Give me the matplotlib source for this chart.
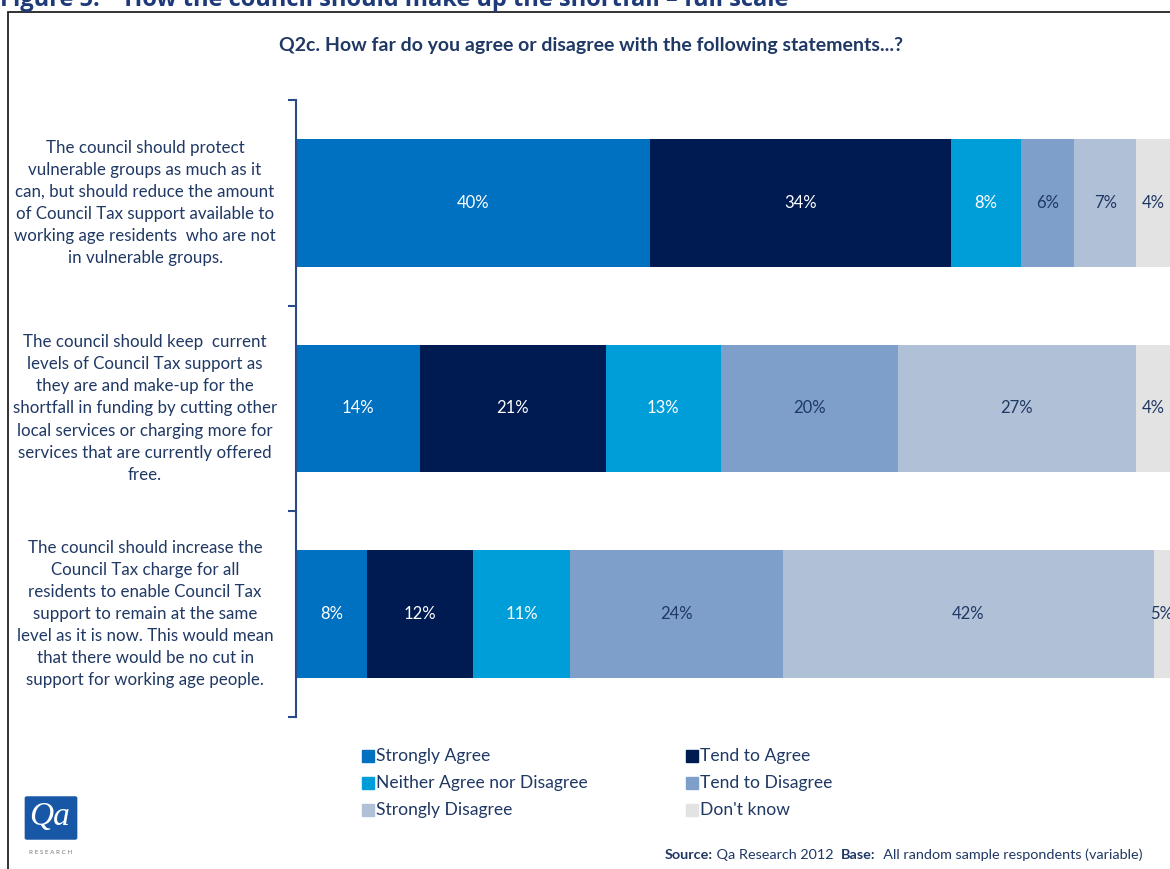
import numpy as np
import matplotlib.pyplot as plt
from matplotlib.patches import Rectangle, FancyBboxPatch

plt.rcParams['font.family'] = ['Lato', 'DejaVu Sans']

# Survey data (percent of respondents)
statements = [
    "The council should protect\nvulnerable groups as much as it\ncan, but should reduce the amount\nof Council Tax support available to\nworking age residents  who are not\nin vulnerable groups.",
    "The council should keep  current\nlevels of Council Tax support as\nthey are and make-up for the\nshortfall in funding by cutting other\nlocal services or charging more for\nservices that are currently offered\nfree.",
    "The council should increase the\nCouncil Tax charge for all\nresidents to enable Council Tax\nsupport to remain at the same\nlevel as it is now. This would mean\nthat there would be no cut in\nsupport for working age people.",
]
responses = ["Strongly Agree", "Tend to Agree", "Neither Agree nor Disagree",
             "Tend to Disagree", "Strongly Disagree", "Don't know"]
strongly_agree = [40, 14, 8]
tend_agree = [34, 21, 12]
neither = [8, 13, 11]
tend_disagree = [6, 20, 24]
strongly_disagree = [7, 27, 42]
dont_know = [4, 4, 5]

series = [strongly_agree, tend_agree, neither, tend_disagree, strongly_disagree, dont_know]
colors = ["#0070C0", "#001A52", "#009ED8", "#7F9FCB", "#B0C0D6", "#E3E3E3"]
label_colors = ["white", "white", "white", "#1F3864", "#1F3864", "#1F3864"]
navy = "#1F3864"

W, H = 1170, 869
fig = plt.figure(figsize=(W / 100, H / 100), dpi=100)

# outer frame (runs off the right and bottom edges)
fig.add_artist(Rectangle((8 / W, -0.05), 1.2, 1 - 12 / H + 0.05, transform=fig.transFigure,
                         fill=False, edgecolor="#222222", linewidth=1.3))

# figure caption, partly cut by the top edge
fig.text(0 / W, 1 - 6 / H, "Figure 5:    How the council should make up the shortfall \u2013 full scale",
         fontsize=17, fontweight="bold", color="#1F3A78", va="baseline", ha="left",
         family=["Open Sans", "DejaVu Sans"])

fig.text(591 / W, 1 - 45 / H, "Q2c. How far do you agree or disagree with the following statements...?",
         fontsize=14, fontweight="bold", color=navy, ha="center", va="center")

ax = fig.add_axes([296 / W, 1 - 717 / H, 1 - 296 / W, (717 - 100) / H])
y = np.arange(len(statements))
left = np.zeros(len(statements))
for vals, c, lc in zip(series, colors, label_colors):
    bars = ax.barh(y, vals, left=left, height=0.622, color=c, edgecolor="none")
    ax.bar_label(bars, labels=[f"{v}%" for v in vals], label_type="center",
                 color=lc, fontsize=12, clip_on=False)
    left += np.array(vals)

ax.set_xlim(0, 98.8)
ax.set_ylim(2.5, -0.5)
ax.set_xticks([])
ax.set_yticks([])
ax.set_yticks([-0.5, 0.5, 1.5, 2.5], minor=True)
ax.tick_params(axis="y", which="minor", length=6, width=1.5, color="#2B4A8C", direction="out")
for s in ["top", "right", "bottom"]:
    ax.spines[s].set_visible(False)
ax.spines["left"].set_color("#2B4A8C")
ax.spines["left"].set_linewidth(1.5)

for yi, text in zip(y, statements):
    ax.text(-151 / 8.85, yi, text, ha="center", va="center", fontsize=12.2,
            color=navy, linespacing=1.47, transform=ax.transData)

# legend laid out as two columns, three rows
leg_x = [362, 686]
leg_y = [756, 783, 810]
for i, (name, c) in enumerate(zip(responses, colors)):
    lx = leg_x[i % 2]
    ly = leg_y[i // 2]
    fig.add_artist(Rectangle((lx / W, 1 - (ly + 6) / H), 12 / W, 12 / H,
                             transform=fig.transFigure, color=c))
    fig.text((lx + 14) / W, 1 - ly / H, name, fontsize=12.6, color=navy,
             ha="left", va="center")

# source line
t1 = fig.text(665 / W, 1 - 855 / H, "Source:", fontsize=10.4, fontweight="bold",
              color=navy, ha="left", va="center")
a2 = fig.add_artist(plt.Annotation(" Qa Research 2012  ", xy=(1, 0.5), xycoords=t1,
                                   va="center", ha="left", fontsize=10.4, color=navy))
a3 = fig.add_artist(plt.Annotation("Base:", xy=(1, 0.5), xycoords=a2, va="center", ha="left",
                                   fontsize=10.4, fontweight="bold", color=navy))
fig.add_artist(plt.Annotation("  All random sample respondents (variable)", xy=(1, 0.5),
                              xycoords=a3, va="center", ha="left", fontsize=10.4, color=navy))

# company logo
fig.add_artist(FancyBboxPatch((27 / W, 1 - 838 / H), 48 / W, 40 / H,
                              boxstyle="round,pad=0.002", transform=fig.transFigure,
                              facecolor="#1757A6", edgecolor="none"))
fig.text(50 / W, 1 - 817 / H, "Qa", fontsize=24, color="white", style="italic",
         family=["Liberation Serif", "DejaVu Serif"], ha="center", va="center")
fig.text(51 / W, 1 - 853 / H, "R E S E A R C H", fontsize=4.5, color="#777777",
         ha="center", va="center")

fig.savefig("out.png", dpi=100)
